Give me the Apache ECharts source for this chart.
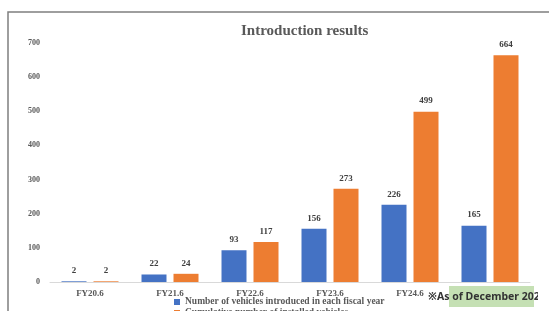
<!DOCTYPE html>
<html>
<head>
<meta charset="utf-8">
<script src="https://cdn.jsdelivr.net/npm/echarts@6/dist/echarts.min.js"></script>
<style>
  html, body { margin: 0; padding: 0; background: #fff; }
  #main { width: 549px; height: 311px; }
</style>
</head>
<body>
<div id="main"></div>
<script>
var categories = ['FY20.6', 'FY21.6', 'FY22.6', 'FY23.6', 'FY24.6', 'FY25.6'];
var introduced = [2, 22, 93, 156, 226, 165];
var cumulative = [2, 24, 117, 273, 499, 664];
var seriesNames = ['Number of vehicles introduced in each fiscal year', 'Cumulative number of installed vehicles'];

var chartDom = document.getElementById('main');
var myChart = echarts.init(chartDom);
var serif = '"Liberation Serif", "DejaVu Serif", serif';
var legendText = { fontFamily: serif, fontSize: 9.5, fontWeight: 'bold', color: '#595959' };

var option = {
    animation: false,
    title: {
        text: 'Introduction results',
        left: 236,
        top: 19,
        textStyle: { fontFamily: serif, fontSize: 15, fontWeight: 'bold', color: '#595959' }
    },
    legend: [{
        data: [seriesNames[0]],
        left: 174,
        top: 297,
        padding: 0,
        itemWidth: 6,
        itemHeight: 6,
        itemGap: 3,
        icon: 'rect',
        textStyle: legendText
    }, {
        data: [seriesNames[1]],
        left: 174,
        top: 308,
        padding: 0,
        itemWidth: 6,
        itemHeight: 6,
        icon: 'rect',
        textStyle: legendText
    }],
    grid: { left: 50, right: 19, top: 43, bottom: 29 },
    xAxis: {
        type: 'category',
        data: categories,
        axisLine: { lineStyle: { color: '#d9d9d9' } },
        axisTick: { show: false },
        axisLabel: { fontFamily: serif, fontSize: 9, fontWeight: 'bold', color: '#595959', margin: 7 }
    },
    yAxis: {
        type: 'value',
        min: 0,
        max: 700,
        interval: 100,
        splitLine: { show: false },
        axisLabel: { fontFamily: serif, fontSize: 8, fontWeight: 'bold', color: '#595959', margin: 10 }
    },
    series: [{
        name: seriesNames[0],
        type: 'bar',
        data: introduced,
        barWidth: 25,
        barGap: '28%',
        itemStyle: { color: '#4472c4' },
        label: { show: true, position: 'top', distance: 6, fontFamily: serif, fontSize: 9, fontWeight: 'bold', color: '#404040' }
    }, {
        name: seriesNames[1],
        type: 'bar',
        data: cumulative,
        barWidth: 25,
        itemStyle: { color: '#ed7d31' },
        label: { show: true, position: 'top', distance: 6, fontFamily: serif, fontSize: 9, fontWeight: 'bold', color: '#404040' }
    }],
    graphic: [{
        type: 'rect',
        shape: { x: 8, y: 12, width: 700, height: 400 },
        style: { fill: 'none', stroke: '#7f7f7f', lineWidth: 1.5 },
        silent: true
    }, {
        type: 'rect',
        z: 100,
        shape: { x: 449, y: 286, width: 85, height: 21 },
        style: { fill: '#c5e0b4' }
    }, {
        type: 'text',
        z: 101,
        x: 428,
        y: 297,
        style: {
            text: '※As of December 2024',
            fontFamily: '"Noto Sans", "DejaVu Sans", sans-serif',
            fontSize: 10.5,
            fontWeight: 'bold',
            fill: '#333333',
            verticalAlign: 'middle'
        }
    }, {
        type: 'rect',
        z: 102,
        shape: { x: 538, y: 286, width: 20, height: 25 },
        style: { fill: '#ffffff' }
    }]
};

myChart.setOption(option);
</script>
</body>
</html>
